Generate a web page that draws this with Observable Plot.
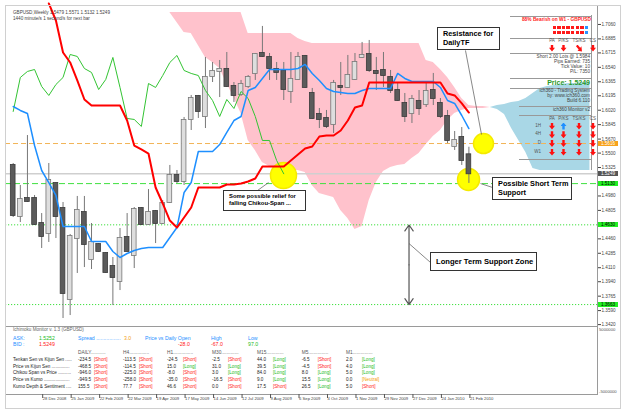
<!DOCTYPE html>
<html><head><meta charset="utf-8">
<script src="https://cdn.jsdelivr.net/npm/d3@7"></script>
<script src="https://cdn.jsdelivr.net/npm/@observablehq/plot@0.6"></script>
<style>
html,body{margin:0;padding:0;background:#fff;}
#chart{position:relative;width:625px;height:413px;overflow:hidden;font-family:"Liberation Sans",Arial,sans-serif;}
#chart svg{position:absolute;left:0;}
.t{position:absolute;white-space:nowrap;line-height:1;font-size:5px;color:#333;}
.box{position:absolute;border:1px solid #333;background:#fff;font-weight:bold;color:#000;line-height:1.2;box-sizing:border-box;white-space:nowrap;}
.arr{position:absolute;width:6px;height:7px;}
.sq{position:absolute;width:3.6px;height:3.4px;}
.hl{position:absolute;height:0;border-top:1px solid #999;}
.vl{position:absolute;width:0;border-left:1px solid #999;}
</style></head><body><div id="chart"></div>
<script>
// ---------------- DATA ----------------
const symbolLine = "GBPUSD,Weekly  1.5479 1.5571 1.5132 1.5249";
const timerLine = "1440 minute/s 1 second/s for next bar";
// weekly candles, first bar = 30 Nov 2008 (index 0), last = 21 Feb 2010 (index 64)
const open = [1.5350,1.4731,1.4949,1.4949,1.4646,1.4525,1.5131,1.4828,1.3724,1.4464,
 1.4779,1.4209,1.4391,1.4282,1.4124,1.3942,1.4476,1.4258,1.4828,1.4634,
 1.4792,1.4646,1.4901,1.5228,1.5155,1.5908,1.6187,1.5944,1.6429,1.6490,
 1.6514,1.6308,1.6211,1.6308,1.6466,1.6708,1.6660,1.6514,1.6490,1.6247,
 1.6393,1.6672,1.6223,1.5968,1.5920,1.5847,1.6308,1.6296,1.6393,1.6660,
 1.6696,1.6490,1.6502,1.6417,1.6259,1.6102,1.5980,1.6126,1.6089,1.6259,
 1.6102,1.5944,1.5580,1.5689,1.5479];
const high = [1.5374,1.5107,1.5713,1.4986,1.4767,1.5374,1.5143,1.4901,1.4513,1.4974,
 1.4974,1.4646,1.4403,1.4294,1.4234,1.4585,1.4767,1.4840,1.4840,1.5058,
 1.4804,1.4925,1.5350,1.5289,1.5932,1.6199,1.6199,1.6660,1.6599,1.6623,
 1.6720,1.6356,1.6381,1.6441,1.6708,1.7036,1.6708,1.6599,1.6599,1.6720,
 1.6720,1.6684,1.6284,1.6041,1.6017,1.6381,1.6599,1.6684,1.6708,1.6842,
 1.6866,1.6660,1.6720,1.6502,1.6356,1.6223,1.6199,1.6259,1.6356,1.6466,
 1.6162,1.6017,1.5762,1.5810,1.5571];
const low = [1.4719,1.4658,1.4901,1.4622,1.4343,1.4416,1.4464,1.3494,1.3530,1.4040,
 1.4112,1.4088,1.4294,1.4040,1.3651,1.3833,1.4306,1.4100,1.4622,1.4622,
 1.4403,1.4634,1.4889,1.5131,1.5107,1.5774,1.5920,1.5798,1.6356,1.6174,
 1.6296,1.6114,1.6187,1.6284,1.6381,1.6660,1.6381,1.6381,1.6138,1.6102,
 1.6381,1.6284,1.5908,1.5798,1.5798,1.5738,1.6199,1.6284,1.6381,1.6647,
 1.6478,1.6259,1.6296,1.6223,1.6126,1.5871,1.5859,1.5956,1.6053,1.6077,
 1.5920,1.5616,1.5532,1.5350,1.5132];
const close = [1.4743,1.4937,1.4913,1.4634,1.4488,1.5168,1.4731,1.3797,1.4488,1.4804,
 1.4391,1.4416,1.4306,1.4052,1.3991,1.4464,1.4306,1.4816,1.4634,1.4779,
 1.4646,1.4889,1.5228,1.5155,1.5895,1.6162,1.6005,1.6417,1.6490,1.6514,
 1.6308,1.6199,1.6332,1.6417,1.6696,1.6672,1.6526,1.6478,1.6271,1.6393,
 1.6660,1.6296,1.5920,1.5908,1.5823,1.6344,1.6296,1.6441,1.6599,1.6684,
 1.6502,1.6466,1.6441,1.6259,1.6138,1.5944,1.6150,1.6041,1.6247,1.6162,
 1.5944,1.5653,1.5653,1.5410,1.5249];
// Tenkan-sen (blue), bars 0..64
const tenkan = [1.6065,1.6017,1.5980,1.5592,1.5289,1.5143,1.4986,1.4610,1.4610,1.4610,
 1.4610,1.4428,1.4428,1.4428,1.4306,1.4234,1.4282,1.4319,1.4343,1.4355,
 1.4355,1.4355,1.4476,1.4597,1.5022,1.5143,1.5519,1.5519,1.5519,1.5604,
 1.5750,1.5895,1.5944,1.6259,1.6296,1.6405,1.6514,1.6514,1.6514,1.6514,
 1.6526,1.6575,1.6466,1.6381,1.6284,1.6247,1.6235,1.6223,1.6223,1.6259,
 1.6284,1.6284,1.6284,1.6284,1.6466,1.6405,1.6368,1.6368,1.6368,1.6368,
 1.6296,1.6138,1.6102,1.5956,1.5798];
// Kijun-sen (red), bars 5..64
const kijunStart = 5;
const kijun = [1.7315,1.7108,1.6720,1.6599,1.6381,1.6150,1.6077,1.6077,1.6077,1.6077,
 1.6077,1.5895,1.5592,1.5544,1.5495,1.5083,1.4889,1.4682,1.4597,1.4719,
 1.4840,1.5083,1.5083,1.5083,1.5083,1.5119,1.5119,1.5131,1.5155,1.5192,
 1.5337,1.5337,1.5337,1.5337,1.5410,1.5483,1.5556,1.5580,1.5701,1.5713,
 1.5713,1.5774,1.5895,1.6053,1.6077,1.6356,1.6356,1.6356,1.6356,1.6356,
 1.6356,1.6356,1.6356,1.6356,1.6356,1.6356,1.6223,1.6199,1.6102,1.5992];
const chikouShift = 26;
// Kumo (Senkou span A / B), bars 22..81
const kumoStart = 22;
const spanA = [1.7205,1.7084,1.6963,1.6951,1.6805,1.6660,1.6599,1.6526,1.6344,1.6174,
 1.5980,1.5653,1.5532,1.5386,1.5337,1.5313,1.5289,1.5289,1.5289,1.5265,
 1.5107,1.5010,1.4986,1.4961,1.4804,1.4707,1.4573,1.4610,1.4925,1.5143,
 1.5277,1.5325,1.5350,1.5362,1.5434,1.5495,1.5604,1.5701,1.5774,1.5895,
 1.5980,1.6017,1.6041,1.6041,1.6041,1.6053,1.6077,1.6089,1.6114,1.6126,
 1.6162,1.6223,1.6284,1.6308,1.6320,1.6332,1.6344,1.6344,1.6356,1.6356];
const spanB = [1.7205,1.7205,1.7205,1.7205,1.7205,1.7205,1.7205,1.7205,1.7205,1.7205,
 1.7205,1.6951,1.6951,1.6951,1.6951,1.6951,1.6951,1.6951,1.6890,1.6854,
 1.6829,1.6829,1.6829,1.6829,1.6829,1.6829,1.6829,1.6829,1.6829,1.6829,
 1.6829,1.6829,1.6829,1.6829,1.6829,1.6829,1.6623,1.6599,1.6514,1.6417,
 1.6296,1.6162,1.6077,1.6065,1.6065,1.6053,1.6029,1.5968,1.5798,1.5653,
 1.5507,1.5313,1.5289,1.5289,1.5289,1.5289,1.5289,1.5289,1.5289,1.5289];
// horizontal levels
const bid = 1.5249, ask = 1.5252;
const orangeLevel = 1.5616;
const shortSupport = 1.5130;
const longSupport = [1.4630, 1.3663];
// axes
const yTicks = [1.7060,1.6885,1.6715,1.6540,1.6365,1.6195,1.6020,1.5845,1.5670,1.5500,1.5325,
 1.4980,1.4805,1.4460,1.4285,1.4110,1.3940,1.3765,1.3590,1.3420];
const dateIdx = [4,8,12,16,20,24,28,32,36,40,44,48,52,56,60,64];
const dateLabels = ["28 Dec 2008","25 Jan 2009","22 Feb 2009","22 Mar 2009","19 Apr 2009","17 May 2009",
 "14 Jun 2009","12 Jul 2009","9 Aug 2009","6 Sep 2009","4 Oct 2009","1 Nov 2009","29 Nov 2009",
 "27 Dec 2009","24 Jan 2010","21 Feb 2010"];
// annotations (bar index, price)
const circles = [{k:37.96,p:1.5228,r:13},{k:66.05,p:1.5616,r:10},{k:63.95,p:1.5180,r:11}];
const leaders = [
 {k1:63.52,p1:1.6745,k2:65.77,p2:1.5726},
 {k1:65.63,p1:1.5131,k2:67.32,p2:1.5083},
 {k1:35.86,p1:1.5143,k2:34.31,p2:1.5046},
 {k1:55.59,p1:1.4403,k2:58.61,p2:1.4173}];
const zoneArrow = {k:55.59, top:1.4628, bottom:1.3663};
const notes = [
 {k:59.59,p:1.7024,w:63,h:23,fs:7.3,lines:["Resistance for","DailyTF"]},
 {k:67.32,p:1.5204,w:80,h:23,fs:7.3,lines:["Possible Short Term","Support"]},
 {k:29.54,p:1.5046,w:83,h:21,fs:5.9,lines:["Some possible relief for","falling Chikou-Span ..."]},
 {k:58.61,p:1.4294,w:107,h:19,fs:7.6,lines:["Longer Term Support Zone"]}];
// right info panel
const panelTitle = "88% Bearish on W1 - GBPUSD";
const bearSquares = [[1,1,1,1,1,1,1,0],[1,1,1,1,1,1,1,0]];
const signalCols = ["PA","P/KS","TS/KS","CS"];
const w1Signals = ["d","d","dr","d"];
const tradeLines = ["Short 2.00 Lots @ 1.5984","Pips Earned: 735","Tick Value: 10","P/L: 7350"];
const priceText = "Price: 1.5249";
const systemLines = ["ich360 - Trading System","by: www.ich360.com","Build 6.110"];
const monitorTitle = "ich360 Monitor v2";
const tfRows = ["1H","4H","D","W1"];
const tfSignals = [["d","u","d","d"],["d","d","d","d"],["d","d","d","d"],["d","d","d","d"]];
// bottom monitor
const monitorHeader = "Ichimoku Monitor v. 1.3 (GBPUSD)";
const monitorRows = ["Tenkan Sen vs Kijun Sen .....","Price vs Kijun Sen ..............","Chikou Span vs Price ..........","Price vs Kumo ....................","Kumo Depth & Sentiment ...."];
const timeframes = ["DAILY...........","H4...............","H1...............","M30.............","M15.............","M5...............","M1..............."];
const monitorValues = [
 ["-234.5","-113.5","-24.5","-2.5","44.0","-6.5","2.0"],
 ["-468.5","-114.5","15.0","31.0","39.5","-4.5","4.0"],
 ["-946.0","-225.0","-8.0","3.0","84.0","8.0","5.0"],
 ["-949.5","-258.0","-35.0","-16.5","9.0","15.5","0.0"],
 ["155.5","77.7","46.6","0.0","17.5","26.5","5.0"]];
const monitorStatus = [
 ["Short","Short","Short","Short","Long","Short","Long"],
 ["Short","Short","Long","Long","Long","Short","Long"],
 ["Short","Short","Short","Long","Long","Long","Long"],
 ["Short","Short","Short","Short","Long","Long","Neutral"],
 ["Short","Short","Short","Short","Short","Long","Short"]];
const spreadVal = "3.0", dailyOpenVal = "-28.0", highVal = "-67.0", lowVal = "97.0";
const subScale = ["5000000","-5000000"];

// ---------------- BUILD ----------------
const candles = open.map((o,i)=>({k:i,open:o,high:high[i],low:low[i],close:close[i]}));
const tenkanData = tenkan.map((p,i)=>({k:i,p}));
const kijunData = kijun.map((p,i)=>({k:i+kijunStart,p}));
const chikouData = close.slice(chikouShift).map((p,i)=>({k:i,p}));
const kumo = spanA.map((a,i)=>({k:i+kumoStart,a,b:spanB[i]}));
const pinkData = kumo.filter(d=>d.b>=d.a);
const blueData = kumo.filter(d=>d.a>=d.b);

const xOpt = {type:"linear",domain:[0,64],range:[12.7,468.4]};
const font = '"Liberation Sans", Arial, sans-serif';
const root = document.getElementById("chart");

const main = Plot.plot({
  width:625,height:327,marginTop:5,marginLeft:5,marginRight:28,marginBottom:1,
  x:{...xOpt,axis:null},
  y:{domain:[1.7290,1.3397],range:[5,326],axis:null},
  r:{type:"identity"},
  style:{fontFamily:font,background:"transparent",color:"#444"},
  marks:[
    Plot.areaY(pinkData,{x:"k",y1:"a",y2:"b",fill:"#ffc2cc"}),
    Plot.areaY(blueData,{x:"k",y1:"a",y2:"b",fill:"#a9d7e6"}),
    Plot.ruleY([orangeLevel],{stroke:"#f2b457",strokeDasharray:"5,3"}),
    Plot.ruleY([bid],{stroke:"#cfcfcf",strokeWidth:1.5}),
    Plot.ruleY([shortSupport],{stroke:"#3fe03f",strokeDasharray:"6,3"}),
    Plot.ruleY(longSupport,{stroke:"#3fe03f",strokeDasharray:"1.2,1.8"}),
    Plot.dot(circles,{x:"k",y:"p",r:"r",fill:"#ffff00",stroke:"#f5ea00"}),
    Plot.ruleX(candles,{x:"k",y1:"low",y2:"high",stroke:"#777",strokeWidth:1}),
    Plot.rect(candles,{x1:d=>d.k-0.33,x2:d=>d.k+0.33,y1:"open",y2:"close",insetTop:-0.5,insetBottom:-0.5,
      fill:d=>d.close>=d.open?"#dedede":"#5b5b5b",stroke:d=>d.close>=d.open?"#777":"#3a3a3a",strokeWidth:0.8}),
    Plot.line(chikouData,{x:"k",y:"p",stroke:"#33c433",strokeWidth:1}),
    Plot.line(tenkanData,{x:"k",y:"p",stroke:"#1e8fff",strokeWidth:1.5}),
    Plot.line(kijunData,{x:"k",y:"p",stroke:"#ff0000",strokeWidth:2}),
    Plot.link(leaders,{x1:"k1",y1:"p1",x2:"k2",y2:"p2",stroke:"#555",strokeWidth:0.7}),
    Plot.arrow([{k:zoneArrow.k,y1:(zoneArrow.top+zoneArrow.bottom)/2,y2:zoneArrow.top},{k:zoneArrow.k,y1:(zoneArrow.top+zoneArrow.bottom)/2,y2:zoneArrow.bottom}],
      {x1:"k",x2:"k",y1:"y1",y2:"y2",stroke:"#555",strokeWidth:1.2,headLength:9,headAngle:70}),
    Plot.frame({stroke:"#9a9a9a"}),
    Plot.axisY({anchor:"right",ticks:yTicks,tickFormat:d=>d.toFixed(4),tickSize:3,tickPadding:1,fontSize:4.6,fill:"#444"})
  ]
});
main.style.top="0px";
root.appendChild(main);

const sub = Plot.plot({
  width:625,height:87,marginTop:0,marginLeft:5,marginRight:28,marginBottom:19,
  x:{...xOpt},
  y:{domain:[0,1],axis:null},
  style:{fontFamily:font,background:"transparent",color:"#555"},
  marks:[
    Plot.frame({stroke:"#9a9a9a"}),
    Plot.axisX({ticks:dateIdx,tickFormat:d=>dateLabels[dateIdx.indexOf(d)],tickSize:4,tickPadding:-1,
      textAnchor:"start",dx:1,fontSize:4.2,fill:"#444"})
  ]
});
sub.style.top="326px";
root.appendChild(sub);

// outer window frame
const frame = document.createElement("div");
frame.style.cssText="position:absolute;left:5px;top:5px;width:616px;height:404px;border:1px solid #d0d0d0;box-sizing:border-box;pointer-events:none;";
root.appendChild(frame);

const X = k=>main.scale("x").apply(k), Y = p=>main.scale("y").apply(p);
function T(x,yc,s,css,fs){fs=fs||5;const d=document.createElement("div");d.className="t";d.textContent=s;
  d.style.fontSize=fs+"px";d.style.left=x+"px";d.style.top=(yc-fs*0.55)+"px";if(css)d.style.cssText+=css;root.appendChild(d);return d;}
function TR(xr,yc,s,css,fs){const d=T(0,yc,s,css,fs);d.style.left="auto";d.style.right=(625-xr)+"px";return d;}
function TC(xc,yc,s,css,fs){const d=T(xc,yc,s,css,fs);d.style.transform="translateX(-50%)";return d;}
function HL(x1,x2,y,c){const d=document.createElement("div");d.className="hl";d.style.left=x1+"px";d.style.width=(x2-x1)+"px";d.style.top=y+"px";if(c)d.style.borderTopColor=c;root.appendChild(d);}
function VL(x,y1,y2){const d=document.createElement("div");d.className="vl";d.style.left=x+"px";d.style.top=y1+"px";d.style.height=(y2-y1)+"px";root.appendChild(d);}
function ARR(xc,yc,dir){const d=document.createElement("div");d.className="arr";d.style.left=(xc-3)+"px";d.style.top=(yc-3.5)+"px";
  if(dir==="u"){d.style.background="#1e8fff";d.style.clipPath="polygon(50% 0,100% 50%,70% 50%,70% 100%,30% 100%,30% 50%,0 50%)";}
  else if(dir==="dr"){d.style.background="#ff1010";d.style.clipPath="polygon(0 25%,25% 0,70% 45%,90% 25%,100% 100%,25% 90%,45% 70%)";}
  else{d.style.background="#ff1010";d.style.clipPath="polygon(30% 0,70% 0,70% 48%,100% 48%,50% 100%,0 48%,30% 48%)";}
  root.appendChild(d);}

// top-left info
T(13,14,symbolLine,"color:#444",4.6);
T(13,19.3,timerLine,"color:#444",4.6);

// annotation boxes
notes.forEach(n=>{const d=document.createElement("div");d.className="box";
  d.style.left=X(n.k)+"px";d.style.top=Y(n.p)+"px";d.style.width=n.w+"px";d.style.height=n.h+"px";
  d.style.fontSize=n.fs+"px";d.style.padding=(n.lines.length>1?"2px 5px":"4px 5px");
  d.innerHTML=n.lines.join("<br>");root.appendChild(d);});

// price labels on right axis
function PL(v,bg,fg,txt){const d=document.createElement("div");
  d.style.cssText=`position:absolute;left:598px;width:20px;height:5.4px;top:${Y(v)-2.5}px;background:${bg};color:${fg};font-size:4.6px;line-height:5.4px;text-align:center;font-family:${font};`;
  d.textContent=txt;root.appendChild(d);}
PL(orangeLevel,"#f7a21b","#fff",orangeLevel.toFixed(4));
PL(bid,"#555","#fff",bid.toFixed(4));
PL(shortSupport,"#22ee22","#000",shortSupport.toFixed(4));
longSupport.forEach(v=>PL(v,"#22ee22","#000",v.toFixed(4)));

// right panel
[15.7,37.7,53.3,78.3,87.7].forEach(y=>HL(510,591,y));
[105.5,115,158.7].forEach(y=>HL(519,591,y));
VL(591,15,170);
TR(591,20.3,panelTitle,"color:#ff1a1a;font-weight:bold",4.8);
bearSquares.forEach((row,r)=>row.forEach((v,i)=>{const d=document.createElement("div");d.className="sq";
  d.style.left=(552.5+i*4.6)+"px";d.style.top=(26+r*4.6)+"px";d.style.background=v?"#ff1a1a":"#2b95ff";root.appendChild(d);}));
const sigX = [552,563.5,579,593];
signalCols.forEach((s,i)=>TC(sigX[i],41.7,s,"color:#555",4.5));
w1Signals.forEach((s,i)=>ARR(sigX[i],48,s));
tradeLines.forEach((s,i)=>TR(590,57.3+i*5.2,s,"color:#444",4.7));
TR(590,82.6,priceText,"color:#2a9a2a;font-weight:bold",7);
systemLines.forEach((s,i)=>TR(590,91.3+i*4.9,s,"color:#444",4.7));
TR(590,110.4,monitorTitle,"color:#444",4.7);
signalCols.forEach((s,i)=>TC(sigX[i],119.2,s,"color:#555",4.5));
tfRows.forEach((r,j)=>{TR(541,126+j*8.7,r,"color:#555",4.5);tfSignals[j].forEach((s,i)=>ARR(sigX[i],126+j*8.7,s));});

// bottom monitor pane
T(13,331,monitorHeader,"color:#666",4.6);
T(13,339.3,"ASK:","color:#1e8fff",5.2);T(13,344.6,"BID :","color:#1e8fff",5.2);
T(39,339.3,ask.toFixed(4),"color:#22bb22",5.2);T(39,344.6,bid.toFixed(4),"color:#ff2020",5.2);
T(78,339.3,"Spread .................","color:#1e8fff",5.2);T(124,339.3,spreadVal,"color:#f2a020",5.2);
T(145,339.3,"Price vs Daily Open","color:#1e8fff",5.2);T(178,344.6,dailyOpenVal,"color:#ff2020",5.2);
T(211,339.3,"High","color:#1e8fff",5.2);T(211,344.6,highVal,"color:#ff2020",5.2);
T(248,339.3,"Low","color:#1e8fff",5.2);T(248,344.6,lowVal,"color:#22bb22",5.2);
const colX = [78,123,167,212,257,301.7,346];
timeframes.forEach((s,c)=>T(colX[c],353.3,s,"color:#555",4.8));
const rowY = [361,367.5,374,380.7,387.5];
monitorRows.forEach((s,r)=>{T(13,rowY[r],s,"color:#222",4.6);
  monitorValues[r].forEach((v,c)=>{T(colX[c],rowY[r],v,"color:#222",4.6);
    const st=monitorStatus[r][c];const col=st==="Short"?"#ff1a1a":st==="Long"?"#22bb22":"#f5a000";
    T(colX[c]+16,rowY[r],"["+st+"]","color:"+col,4.6);});});
T(599,330.8,subScale[0],"color:#555",4.2);
T(599,392,subScale[1],"color:#555",4.2);
</script></body></html>
